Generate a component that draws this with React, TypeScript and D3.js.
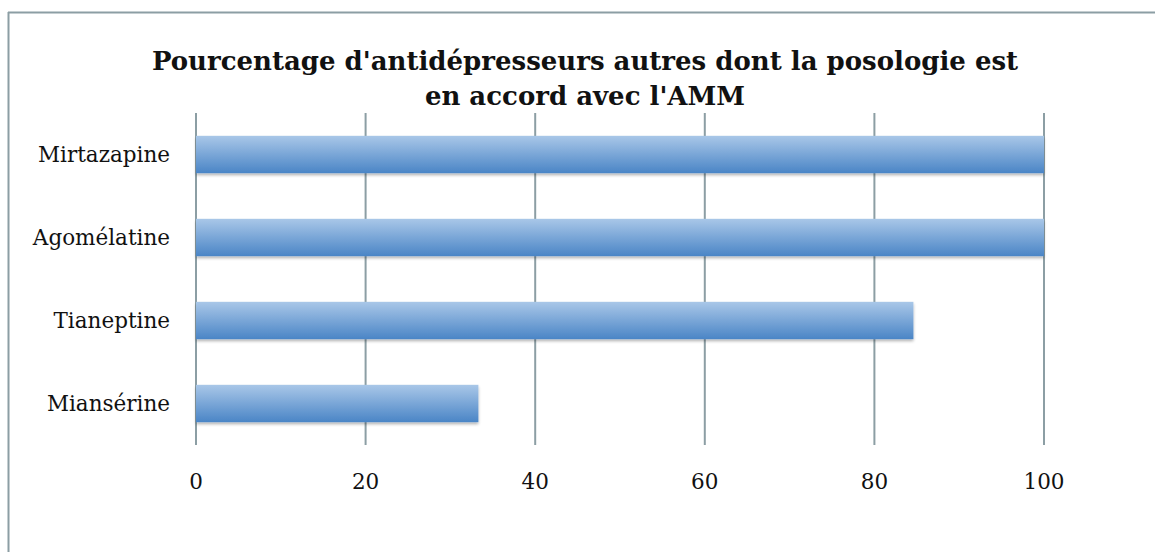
import React from "react";
import * as d3 from "d3";

const categories = ["Mirtazapine", "Agomélatine", "Tianeptine", "Miansérine"];
const values = [100, 100, 84.6, 33.3];
const tickValues = [0, 20, 40, 60, 80, 100];
const titleLines = [
  "Pourcentage d'antidépresseurs autres dont la posologie est",
  "en accord avec l'AMM",
];

export default function App() {
  const W = 1155, H = 552;
  const left = 196, right = 1044, top = 113, bottom = 445;
  const x = d3.scaleLinear().domain([0, 100]).range([left, right]);
  const y = d3.scaleBand().domain(categories).range([top, bottom]).paddingInner(0.55).paddingOuter(0.275);
  const font = "'DejaVu Serif', serif";
  return (
    <svg width={W} height={H} style={{ position: "absolute", left: 0, top: 0 }}>
      <defs>
        <linearGradient id="barg" x1="0" y1="0" x2="0" y2="1">
          <stop offset="0%" stopColor="#a9c7e8" />
          <stop offset="100%" stopColor="#4a85c6" />
        </linearGradient>
        <filter id="sh" x="-5%" y="-20%" width="110%" height="160%">
          <feGaussianBlur in="SourceAlpha" stdDeviation="1.5" />
          <feOffset dx="0" dy="2" result="b" />
          <feComponentTransfer><feFuncA type="linear" slope="0.3" /></feComponentTransfer>
          <feMerge><feMergeNode /><feMergeNode in="SourceGraphic" /></feMerge>
        </filter>
      </defs>
      <rect x={0} y={0} width={W} height={H} fill="#ffffff" />
      <line x1={8} y1={12.5} x2={W} y2={12.5} stroke="#8c9ea4" strokeWidth={2} />
      <line x1={8.5} y1={12} x2={8.5} y2={H} stroke="#8c9ea4" strokeWidth={2} />
      {titleLines.map((t, i) => (
        <text key={i} x={585} y={70 + i * 35} textAnchor="middle" fontFamily={font} fontWeight="bold" fontSize={26} fill="#111">{t}</text>
      ))}
      {tickValues.map((v) => (
        <g key={v}>
          <line x1={x(v)} x2={x(v)} y1={top} y2={bottom} stroke="#8c9ea4" strokeWidth={2} />
          <text x={x(v)} y={489} textAnchor="middle" fontFamily={font} fontSize={21.5} fill="#111">{v}</text>
        </g>
      ))}
      {categories.map((c, i) => (
        <g key={c}>
          <rect x={x(0)} y={y(c)!} width={x(values[i]) - x(0)} height={y.bandwidth()} fill="url(#barg)" filter="url(#sh)" />
          <text x={170} y={y(c)! + y.bandwidth() / 2 + 7.5} textAnchor="end" fontFamily={font} fontSize={21.5} fill="#111">{c}</text>
        </g>
      ))}
    </svg>
  );
}
